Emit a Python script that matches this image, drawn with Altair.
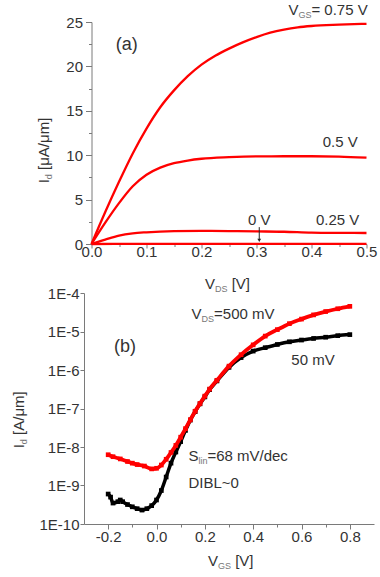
import altair as alt
import pandas as pd

# ---------------- data: panel (a) output characteristics ----------------
vds_075 = [0, 0.025, 0.05, 0.075, 0.1, 0.125, 0.15, 0.175, 0.2, 0.225, 0.25, 0.275, 0.3, 0.325, 0.35, 0.375, 0.4, 0.45, 0.5]
id_075 = [0, 3.6, 7.0, 10.2, 13.0, 15.4, 17.3, 18.9, 20.2, 21.2, 22.0, 22.7, 23.3, 23.8, 24.15, 24.4, 24.55, 24.7, 24.8]
vds_050 = [0, 0.025, 0.05, 0.075, 0.1, 0.125, 0.15, 0.175, 0.2, 0.25, 0.3, 0.35, 0.4, 0.45, 0.5]
id_050 = [0, 2.4, 4.6, 6.5, 7.8, 8.6, 9.1, 9.4, 9.6, 9.78, 9.87, 9.88, 9.88, 9.85, 9.72]
vds_025 = [0, 0.025, 0.05, 0.075, 0.1, 0.15, 0.2, 0.25, 0.3, 0.35, 0.4, 0.45, 0.5]
id_025 = [0, 0.5, 0.95, 1.2, 1.32, 1.45, 1.48, 1.46, 1.42, 1.38, 1.28, 1.25, 1.24]
vds_000 = [0, 0.1, 0.2, 0.3, 0.4, 0.5]
id_000 = [0, 0.02, 0.02, 0.02, 0.02, 0.02]

# ---------------- data: panel (b) transfer characteristics ----------------
vgs_500 = [-0.2, -0.18, -0.15, -0.12, -0.1, -0.08, -0.05, -0.02, 0.0, 0.02, 0.04, 0.06, 0.08, 0.1,
           0.12, 0.14, 0.16, 0.18, 0.2, 0.22, 0.25, 0.3, 0.35, 0.4, 0.45, 0.5, 0.55, 0.6, 0.65, 0.7, 0.75, 0.8]
id_500 = [6.3e-9, 5.6e-9, 4.9e-9, 4.2e-9, 3.8e-9, 3.5e-9, 3.2e-9, 2.7e-9, 2.8e-9, 3.4e-9, 4.8e-9, 7.2e-9,
          1.1e-8, 1.8e-8, 3.0e-8, 5.1e-8, 8.5e-8, 1.35e-7, 2.1e-7, 3.2e-7, 5.4e-7, 1.26e-6, 2.5e-6, 4.5e-6,
          7.6e-6, 1.12e-5, 1.6e-5, 2.1e-5, 2.7e-5, 3.3e-5, 3.9e-5, 4.5e-5]
vgs_50 = [-0.2, -0.19, -0.18, -0.16, -0.15, -0.14, -0.12, -0.1, -0.08, -0.06, -0.04, -0.02, 0.0, 0.02,
          0.04, 0.06, 0.08, 0.1, 0.12, 0.14, 0.16, 0.18, 0.2, 0.22, 0.25, 0.3, 0.35, 0.4, 0.45, 0.5,
          0.55, 0.6, 0.65, 0.7, 0.75, 0.8]
id_50 = [6.0e-10, 5.0e-10, 3.5e-10, 3.8e-10, 4.2e-10, 3.8e-10, 3.2e-10, 2.8e-10, 2.5e-10, 2.3e-10,
         2.5e-10, 3.0e-10, 4.2e-10, 7.4e-10, 1.66e-9, 3.8e-9, 7.4e-9, 1.38e-8, 2.7e-8, 5.0e-8, 8.3e-8,
         1.32e-7, 2.0e-7, 3.1e-7, 5.2e-7, 1.17e-6, 2.1e-6, 3.1e-6, 3.8e-6, 4.6e-6, 5.4e-6, 6.0e-6,
         6.6e-6, 7.1e-6, 7.8e-6, 8.3e-6]

xa_major = [0, 0.1, 0.2, 0.3, 0.4, 0.5]
xa_minor = [0.05, 0.15, 0.25, 0.35, 0.45]
ya_major = [0, 5, 10, 15, 20, 25]
ya_minor = [2.5, 7.5, 12.5, 17.5, 22.5]
xb_major = [-0.2, 0.0, 0.2, 0.4, 0.6, 0.8]
xb_minor = [-0.1, 0.1, 0.3, 0.5, 0.7]
yb_major = [1e-10, 1e-9, 1e-8, 1e-7, 1e-6, 1e-5, 1e-4]

# ---------------- styling ----------------
FONT = "Liberation Sans"
AX = "#7a7a7a"
TX = "#333333"
SUB = "#777777"
RED = "#ff0000"
TICKFS = 15

ARIAL = {" ": 278, "(": 333, ")": 333, "-": 333, ".": 278, "/": 278, "=": 584, "~": 584,
         "A": 667, "B": 667, "D": 722, "E": 667, "G": 778, "I": 278, "L": 556, "S": 667, "V": 667,
         "[": 278, "]": 278, "a": 556, "b": 556, "c": 500, "d": 556, "e": 556, "i": 222, "l": 222,
         "m": 833, "n": 556, "s": 500, "\u03bc": 576}


def tw(s, size):
    return sum(ARIAL.get(c, 556) for c in s) * size / 1000.0


def axis(values, orient, tick, pad, expr=None, labels=True, domain=True):
    kw = dict(values=values, orient=orient, tickSize=tick, labelPadding=pad, grid=False, title=None,
              domainColor=AX, tickColor=AX, labelColor=TX, labelFont=FONT, labelFontSize=TICKFS,
              labels=labels, domain=domain, labelFlush=False, labelOverlap=False)
    if expr:
        kw["labelExpr"] = expr
    return alt.Axis(**kw)


def composite(segs, xs, ys, x=None, y=None, px=None, angle=0):
    """Text built of segments (text, size, dy, color); anchored in data (x,y) or pixels (px)."""
    layers = []
    off = 0.0
    one = pd.DataFrame({"x": [x if x is not None else 0], "y": [y if y is not None else 1]})
    for text, size, dy, col in segs:
        stripped = text.lstrip(" ")
        off += tw(" ", size) * (len(text) - len(stripped))
        m = alt.Chart(one).mark_text(text=stripped, fontSize=size, font=FONT, color=col, align="left",
                                     baseline="alphabetic", dx=off, dy=dy, angle=angle)
        if px is not None:
            enc = m.encode(x=alt.value(px[0]), y=alt.value(px[1]))
        else:
            enc = m.encode(x=alt.X("x:Q", scale=xs, axis=None), y=alt.Y("y:Q", scale=ys, axis=None))
        layers.append(enc)
        off += tw(stripped, size)
    return layers


def label(text, x, y, xs, ys, size=15, align="left", baseline="alphabetic"):
    one = pd.DataFrame({"x": [x], "y": [y]})
    return alt.Chart(one).mark_text(text=text, fontSize=size, font=FONT, color=TX, align=align,
                                    baseline=baseline).encode(
        x=alt.X("x:Q", scale=xs, axis=None), y=alt.Y("y:Q", scale=ys, axis=None))


# ---------------- panel (a) ----------------
xa = alt.Scale(domain=[0, 0.5], nice=False, zero=False)
ya = alt.Scale(domain=[0, 25], nice=False)

rows = []
for name, xv, yv in [("0.75", vds_075, id_075), ("0.5", vds_050, id_050),
                     ("0.25", vds_025, id_025), ("0", vds_000, id_000)]:
    for a, b in zip(xv, yv):
        rows.append({"series": name, "x": a, "y": b})
df_a = pd.DataFrame(rows)

lines_a = alt.Chart(df_a).mark_line(color=RED, strokeWidth=2.3, interpolate="monotone").encode(
    x=alt.X("x:Q", scale=xa, axis=axis(xa_major, "bottom", 4, -4, expr="format(datum.value, '.1f')")),
    y=alt.Y("y:Q", scale=ya, axis=axis(ya_major, "left", 6, 3)),
    detail="series:N",
)
minor_a = alt.Chart(df_a).mark_point(opacity=0).encode(
    x=alt.X("x:Q", scale=xa, axis=axis(xa_minor, "bottom", 2.5, 0, labels=False, domain=False)),
    y=alt.Y("y:Q", scale=ya, axis=axis(ya_minor, "left", 3, 0, labels=False, domain=False)),
)

arrow_df = pd.DataFrame({"x": [0.305], "y": [1.9], "y2": [0.5]})
arrow_rule = alt.Chart(arrow_df).mark_rule(color="#222222", strokeWidth=1).encode(
    x=alt.X("x:Q", scale=xa, axis=None), y=alt.Y("y:Q", scale=ya, axis=None), y2="y2:Q")
arrow_head = alt.Chart(pd.DataFrame({"x": [0.305], "y": [0.42]})).mark_point(
    shape="triangle-down", filled=True, size=14, color="#222222", opacity=1).encode(
    x=alt.X("x:Q", scale=xa, axis=None), y=alt.Y("y:Q", scale=ya, axis=None))

PA_LEFT = 93.5
PA_TOP = 20.7
ann_a = []
ann_a += [label("(a)", 0.064, 22.4, xa, ya, size=18, align="center", baseline="middle")]
ann_a += composite([("V", 15, 0, TX), ("GS", 9, 3, SUB), ("= 0.75 V", 15, 0, TX)], xa, ya, x=0.358, y=25.83)
ann_a += [label("0.5 V", 0.484, 10.9, xa, ya, align="right")]
ann_a += [label("0.25 V", 0.487, 2.1, xa, ya, align="right")]
ann_a += [label("0 V", 0.305, 2.1, xa, ya, align="center")]
ann_a += composite([("V", 15, 0, TX), ("DS", 9, 3, SUB), (" [V]", 15, 0, TX)], xa, ya,
                   px=(207 - PA_LEFT, 288 - PA_TOP))
ann_a += composite([("I", 15, 0, TX), ("d", 9, 3, SUB), (" [\u03bcA/\u03bcm]", 15, 0, TX)], xa, ya,
                   px=(51 - PA_LEFT, 182 - PA_TOP), angle=270)

panel_a = alt.layer(lines_a, minor_a, arrow_rule, arrow_head, *ann_a).resolve_axis(
    x="independent", y="independent").properties(width=275, height=222)

# ---------------- panel (b) ----------------
xb = alt.Scale(domain=[-0.3, 0.9], nice=False, zero=False)
yb = alt.Scale(type="log", domain=[1e-10, 1e-4], nice=False)

df_b50 = pd.DataFrame({"x": vgs_50, "y": id_50})
df_b500 = pd.DataFrame({"x": vgs_500, "y": id_500})

xb_axis = axis(xb_major, "bottom", 5, 0, expr="replace(format(datum.value, '.1f'), '\u2212', '-')")
yb_axis = axis(yb_major, "left", 4, 1, expr="'1E' + round(log(datum.value) / LN10)")

line_b50 = alt.Chart(df_b50).mark_line(color="#000000", strokeWidth=3.5, interpolate="monotone").encode(
    x=alt.X("x:Q", scale=xb, axis=xb_axis), y=alt.Y("y:Q", scale=yb, axis=yb_axis))
sq_b50 = alt.Chart(df_b50).mark_square(color="#000000", size=22, opacity=1).encode(
    x=alt.X("x:Q", scale=xb, axis=None), y=alt.Y("y:Q", scale=yb, axis=None))
line_b500 = alt.Chart(df_b500).mark_line(color=RED, strokeWidth=3.8, interpolate="monotone").encode(
    x=alt.X("x:Q", scale=xb, axis=None), y=alt.Y("y:Q", scale=yb, axis=None))
sq_b500 = alt.Chart(df_b500).mark_square(color=RED, size=22, opacity=1).encode(
    x=alt.X("x:Q", scale=xb, axis=None), y=alt.Y("y:Q", scale=yb, axis=None))
minor_b = alt.Chart(df_b50).mark_point(opacity=0).encode(
    x=alt.X("x:Q", scale=xb, axis=axis(xb_minor, "bottom", 3, 0, labels=False, domain=False)),
    y=alt.Y("y:Q", scale=yb, axis=None))

PB_LEFT = 86
PB_TOP = 291.7
ann_b = []
ann_b += [label("(b)", -0.13, 3.98e-6, xb, yb, size=18, align="center", baseline="middle")]
ann_b += composite([("V", 15, 0, TX), ("DS", 9, 3, SUB), ("=500 mV", 15, 0, TX)], xb, yb, x=0.145, y=2.16e-5)
ann_b += [label("50 mV", 0.558, 1.32e-6, xb, yb)]
ann_b += composite([("S", 15, 0, TX), ("lin", 9, 3, SUB), ("=68 mV/dec", 15, 0, TX)], xb, yb, x=0.132, y=4.27e-9)
ann_b += [label("DIBL~0", 0.132, 8.7e-10, xb, yb)]
ann_b += composite([("V", 15, 0, TX), ("GS", 9, 3, SUB), (" [V]", 15, 0, TX)], xb, yb,
                   px=(210 - PB_LEFT, 565 - PB_TOP))
ann_b += composite([("I", 15, 0, TX), ("d", 9, 3, SUB), (" [A/\u03bcm]", 15, 0, TX)], xb, yb,
                   px=(26 - PB_LEFT, 447 - PB_TOP), angle=270)

panel_b = alt.layer(line_b50, sq_b50, line_b500, sq_b500, minor_b, *ann_b).resolve_axis(
    x="independent", y="independent").properties(width=290, height=231)

chart = alt.vconcat(panel_a, panel_b, spacing=49, bounds="flush", center=True).properties(
    padding={"left": 12, "top": 2, "right": 2, "bottom": 2}
).configure(font=FONT, background="white").configure_view(stroke=None)

chart.save("out.html", embed_options={"renderer": "svg", "actions": False})
